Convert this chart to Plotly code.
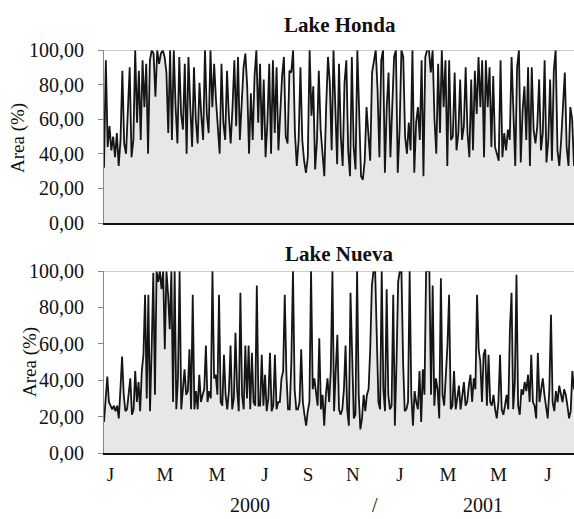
import pandas as pd
import plotly.graph_objects as go
from plotly.subplots import make_subplots

# ---- data ----
honda = [32,94,44,56,42,50,38,52,33,48,88,46,40,69,90,38,48,100,58,88,48,94,67,92,40,94,100,98,73,100,92,98,100,96,87,52,100,48,100,67,46,96,63,54,92,40,96,67,44,90,60,46,81,62,48,100,63,52,100,67,92,71,58,40,92,58,48,88,62,46,67,94,56,96,48,67,90,98,79,40,75,
         48,85,100,58,92,48,83,38,58,92,40,94,52,90,42,67,85,96,50,46,88,87,100,52,33,48,90,48,36,29,38,100,62,79,31,48,88,54,38,27,67,96,81,42,100,67,34,92,50,33,81,94,42,27,96,44,31,100,54,27,25,36,67,50,36,87,94,100,77,38,94,100,29,67,87,38,67,96,100,29,54,100,96,50,40,58,
         42,100,29,58,67,48,94,27,96,100,100,87,100,60,40,92,52,100,67,94,33,94,48,50,87,42,52,83,48,56,90,52,38,83,42,88,63,96,67,94,38,94,67,90,44,85,44,40,36,94,38,52,42,54,48,96,67,33,90,100,35,65,79,48,90,33,90,54,46,56,83,42,52,94,35,48,83,36,88,100,42,33,48,67,87,44,33,67,60,33]

nueva = [17,28,42,28,26,24,26,23,26,19,35,53,32,23,24,34,41,21,24,45,28,39,23,45,54,87,30,87,23,57,99,32,100,94,100,90,100,57,100,87,68,100,28,100,24,41,100,24,35,46,32,34,57,24,87,24,34,24,43,28,32,35,59,28,34,30,100,41,43,32,87,28,26,54,32,24,34,59,24,30,66,35,23,88,32,24,59,30,59,24,55,28,26,92,26,
         26,54,26,43,23,30,55,23,26,54,24,28,28,41,45,87,43,24,24,50,100,35,24,24,28,57,28,21,15,23,28,100,35,41,32,26,63,24,32,15,32,41,28,45,100,23,45,65,24,21,24,35,59,24,15,88,54,19,21,100,32,13,19,32,23,32,35,57,92,100,100,54,28,24,100,35,23,90,32,24,26,87,15,50,94,100,100,50,23,24,28,100,32,15,34,
         28,24,45,17,46,32,100,100,100,32,92,26,41,35,19,96,32,26,41,59,87,24,26,45,24,32,37,24,32,39,26,28,37,43,28,41,35,87,57,50,28,54,57,26,54,28,26,32,24,19,28,54,24,21,26,32,24,68,88,24,39,98,26,21,35,32,39,34,43,28,54,28,26,19,55,28,35,41,32,24,19,35,76,28,23,34,28,37,32,28,35,32,26,19,23,45,35]

start_date, end_date = "2000-01-01", "2001-08-01"
tick_dates = ["2000-01-09","2000-03-16","2000-05-19","2000-07-17","2000-09-08",
              "2000-11-02","2000-12-30","2001-02-27","2001-04-30","2001-06-30"]
tick_text = ["J","M","M","J","S","N","J","M","M","J"]
y_ticks = [0,20,40,60,80,100]
titles = ["Lake Honda", "Lake Nueva"]

honda_dates = pd.date_range(start_date, end_date, periods=len(honda))
nueva_dates = pd.date_range(start_date, end_date, periods=len(nueva))

W, H = 574, 519
FONT = "Liberation Serif"

fig = make_subplots(rows=2, cols=1)
for row, (d, v) in enumerate([(honda_dates, honda), (nueva_dates, nueva)], start=1):
    fig.add_trace(go.Scatter(x=d, y=v, mode="lines", fill="tozeroy",
                             fillcolor="#e7e7e7",
                             line=dict(color="#151515", width=1.8),
                             showlegend=False, hoverinfo="skip"), row=row, col=1)

def px_x(p): return p / W
def px_y(p): return 1 - p / H

x_dom = [px_x(104), 1.0]
fig.update_layout(
    xaxis=dict(domain=x_dom, anchor="y"),
    yaxis=dict(domain=[px_y(223), px_y(50)], anchor="x"),
    xaxis2=dict(domain=x_dom, anchor="y2"),
    yaxis2=dict(domain=[px_y(453), px_y(271)], anchor="x2"),
)

for ax in ["xaxis", "xaxis2"]:
    fig.layout[ax].update(range=[start_date, end_date], showgrid=False, zeroline=False,
                          showline=True, linecolor="#111111", linewidth=2,
                          ticks="", tickvals=tick_dates, ticktext=tick_text,
                          tickfont=dict(family=FONT, size=19, color="#111"),
                          ticklabelstandoff=3, automargin=False)
fig.layout["xaxis"].update(showticklabels=False)

for ax in ["yaxis", "yaxis2"]:
    fig.layout[ax].update(range=[0, 100], tickvals=y_ticks, tickformat=".2f",
                          showgrid=False, zeroline=False,
                          showline=True, linecolor="#888888", linewidth=1,
                          ticks="outside", ticklen=5, tickcolor="#888888",
                          tickfont=dict(family=FONT, size=20, color="#111"),
                          ticklabelstandoff=10, automargin=False)

for yref, xref in [("y", "x"), ("y2", "x2")]:
    fig.add_shape(type="line", xref=f"{xref} domain", yref=yref, x0=0, x1=1, y0=100, y1=100,
                  line=dict(color="#999999", width=1))

ann = []
ann.append(dict(text=f"<b>{titles[0]}</b>", x=px_x(340), y=px_y(25)))
ann.append(dict(text=f"<b>{titles[1]}</b>", x=px_x(339), y=px_y(254)))
for a in ann:
    a.update(xref="paper", yref="paper", showarrow=False, xanchor="center", yanchor="middle",
             font=dict(family=FONT, size=21, color="#111"))
ytitles = [dict(text="Area (%)", x=px_x(18), y=px_y(138)),
           dict(text="Area (%)", x=px_x(30), y=px_y(362))]
for a in ytitles:
    a.update(xref="paper", yref="paper", showarrow=False, textangle=-90,
             xanchor="center", yanchor="middle",
             font=dict(family=FONT, size=19, color="#111"))
years = [dict(text="2000", x=px_x(250), y=px_y(505)),
         dict(text="/", x=px_x(375), y=px_y(505)),
         dict(text="2001", x=px_x(483), y=px_y(505))]
for a in years:
    a.update(xref="paper", yref="paper", showarrow=False, xanchor="center", yanchor="middle",
             borderpad=0, font=dict(family=FONT, size=20, color="#111"))

fig.update_layout(width=W, height=H, autosize=False,
                  margin=dict(l=0, r=0, t=0, b=0, pad=0, autoexpand=False),
                  paper_bgcolor="white", plot_bgcolor="white",
                  separators=",.", annotations=ann + ytitles + years)

post = """
var s = document.documentElement.style; s.margin='0'; s.padding='0'; s.overflow='hidden';
var b = document.body.style; b.margin='0'; b.padding='0'; b.overflow='hidden';
"""
fig.write_html("out.html", config={"displayModeBar": False}, post_script=post)
